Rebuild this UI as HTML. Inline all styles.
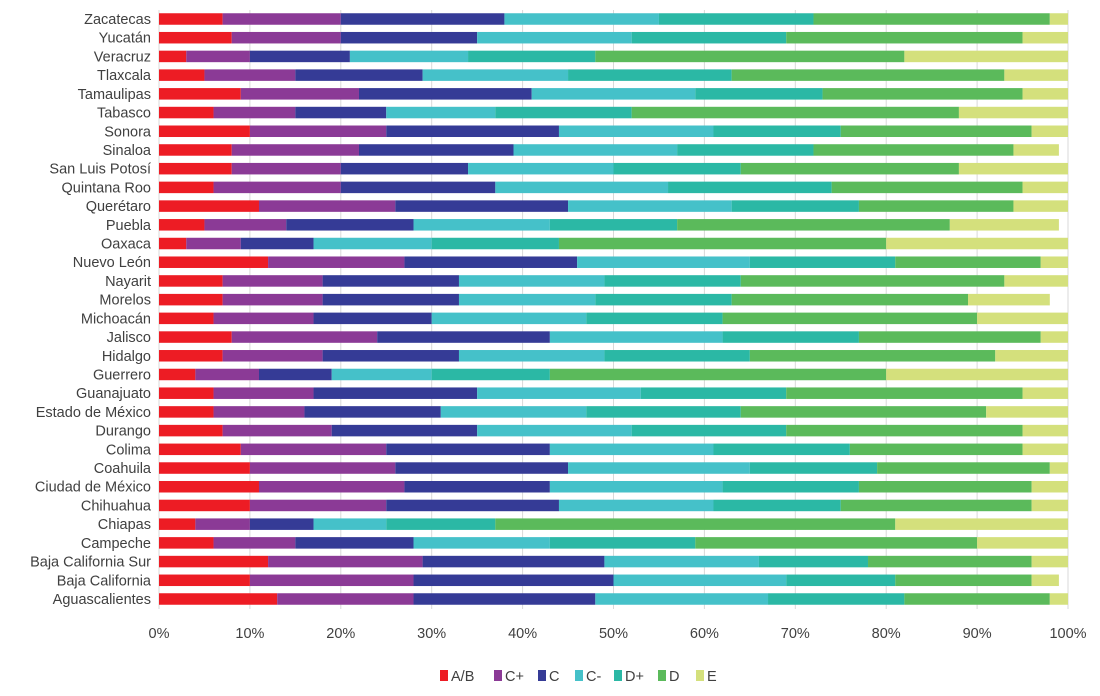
<!DOCTYPE html>
<html><head><meta charset="utf-8"><style>
body{margin:0;background:#fff;}
svg text{font-family:"Liberation Sans",sans-serif;fill:#404040;}
</style></head><body>
<svg id="chart" width="1100" height="691"></svg>
<script>
const categories=["Zacatecas","Yucatán","Veracruz","Tlaxcala","Tamaulipas","Tabasco","Sonora","Sinaloa","San Luis Potosí","Quintana Roo","Querétaro","Puebla","Oaxaca","Nuevo León","Nayarit","Morelos","Michoacán","Jalisco","Hidalgo","Guerrero","Guanajuato","Estado de México","Durango","Colima","Coahuila","Ciudad de México","Chihuahua","Chiapas","Campeche","Baja California Sur","Baja California","Aguascalientes"];
const seriesNames=["A/B","C+","C","C-","D+","D","E"];
const seriesAB=[7,8,3,5,9,6,10,8,8,6,11,5,3,12,7,7,6,8,7,4,6,6,7,9,10,11,10,4,6,12,10,13];
const seriesCplus=[13,12,7,10,13,9,15,14,12,14,15,9,6,15,11,11,11,16,11,7,11,10,12,16,16,16,15,6,9,17,18,15];
const seriesC=[18,15,11,14,19,10,19,17,14,17,19,14,8,19,15,15,13,19,15,8,18,15,16,18,19,16,19,7,13,20,22,20];
const seriesCminus=[17,17,13,16,18,12,17,18,16,19,18,15,13,19,16,15,17,19,16,11,18,16,17,18,20,19,17,8,15,17,19,19];
const seriesDplus=[17,17,14,18,14,15,14,15,14,18,14,14,14,16,15,15,15,15,16,13,16,17,17,15,14,15,14,12,16,12,12,15];
const seriesD=[26,26,34,30,22,36,21,22,24,21,17,30,36,16,29,26,28,20,27,37,26,27,26,19,19,19,21,44,31,18,15,16];
const seriesE=[2,5,18,7,5,12,4,5,12,5,6,12,20,3,7,9,10,3,8,20,5,9,5,5,2,4,4,19,10,4,3,2];
const tickLabels=["0%","10%","20%","30%","40%","50%","60%","70%","80%","90%","100%"];
const tickValues=[0,10,20,30,40,50,60,70,80,90,100];

const allSeries=[seriesAB,seriesCplus,seriesC,seriesCminus,seriesDplus,seriesD,seriesE];
const colors=["#ed1c24","#8b3a96","#353b96","#45c1c9","#2bb8a5","#5bba5b","#d4e07c"];
const NS="http://www.w3.org/2000/svg";
const svg=document.getElementById('chart');
const x0=159,x1=1068,yTop=10,yBot=609;
const xScale=v=>x0+(x1-x0)*v/100;
const rowStep=(599-19)/(categories.length-1);
const yScale=i=>19+i*rowStep;
const barH=11.5;
function mk(t,a){const e=document.createElementNS(NS,t);for(const k in a)e.setAttribute(k,a[k]);svg.appendChild(e);return e;}
// gridlines
tickValues.forEach((v,i)=>{
  const g=mk('line',{x1:xScale(v),x2:xScale(v),y1:yTop,y2:yBot,stroke:'#d9d9d9','stroke-width':1});
  
  
  const t=mk('text',{x:xScale(v),y:638,'text-anchor':'middle','font-size':14.5});
  t.textContent=tickLabels[i];
  
  
});
// bars
categories.forEach((c,i)=>{
  const y=yScale(i);
  const lab=mk('text',{x:151,y:y+5,'text-anchor':'end','font-size':14.5});
  lab.textContent=c;
  
  
  let cum=0;
  allSeries.forEach((s,k)=>{
    const v=s[i];
    const r=mk('rect',{x:xScale(cum),y:y-barH/2,width:xScale(cum+v)-xScale(cum),height:barH,fill:colors[k]});
    
    
    cum+=v;
  });
});
// legend
const legX=[440,494,538,575,614,658,696];
seriesNames.forEach((n,k)=>{
  const r=mk('rect',{x:legX[k],y:670,width:8,height:11,fill:colors[k]});
  
  
  const t=mk('text',{x:legX[k]+11,y:681,'font-size':14.5});
  t.textContent=n;
  
  
});
</script>
</body></html>
